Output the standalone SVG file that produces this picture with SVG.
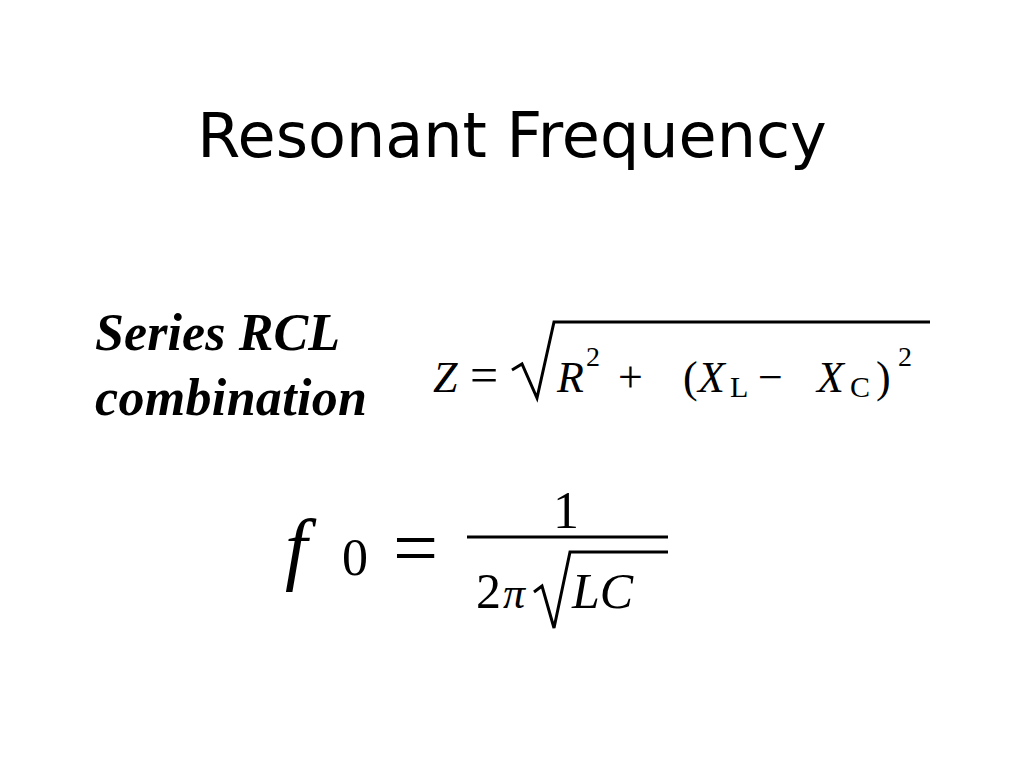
<svg xmlns="http://www.w3.org/2000/svg" width="1024" height="768" viewBox="0 0 1024 768">
<style>
.m{font-family:"Liberation Serif","Times New Roman",serif;fill:#000}
.i{font-style:italic}
.s{fill:none;stroke:#000;stroke-width:3}
</style>
<rect width="1024" height="768" fill="#fff"/>
<text x="512" y="157" text-anchor="middle" font-family="DejaVu Sans,Verdana,sans-serif" font-size="62" fill="#000">Resonant Frequency</text>
<g id="label">
<text class="m i" x="95" y="350" font-size="52" font-weight="bold" textLength="245">Series RCL</text>
<text class="m i" x="95" y="415" font-size="52" font-weight="bold" textLength="272">combination</text>
</g>
<g id="impedance">
<text class="m i" x="433" y="392" font-size="44">Z</text>
<text class="m" x="470" y="392" font-size="50">=</text>
<path class="s" d="M512 370 L522 364 L537 398 L554 322 L930 322"/>
<text class="m i" x="557" y="392" font-size="44">R</text>
<text class="m" x="586" y="366" font-size="28">2</text>
<text class="m" x="618" y="392" font-size="44" fill="#555">+</text>
<text class="m" x="683" y="392" font-size="44">(</text>
<text class="m i" x="698" y="392" font-size="44">X</text>
<text class="m" x="730" y="397" font-size="30">L</text>
<text class="m" x="758" y="392" font-size="44">−</text>
<text class="m i" x="817" y="392" font-size="44">X</text>
<text class="m" x="850" y="397" font-size="30">C</text>
<text class="m" x="876" y="392" font-size="44">)</text>
<text class="m" x="898" y="366" font-size="28">2</text>
</g>
<g id="frequency">
<text class="m i" x="285" y="575" font-size="80">f</text>
<text class="m" x="342" y="575" font-size="52">0</text>
<text class="m" x="393" y="575" font-size="80">=</text>
<line x1="467" y1="537" x2="668" y2="537" stroke="#000" stroke-width="3"/>
<text class="m" x="566" y="528" font-size="52" text-anchor="middle">1</text>
<text class="m" x="476" y="608" font-size="50">2</text>
<text class="m i" x="503" y="608" font-size="44" fill="#888">π</text>
<path class="s" d="M534 592 L542 586 L554 628 L570 552 L668 552"/>
<text class="m i" x="572" y="608" font-size="50">LC</text>
</g>
</svg>
